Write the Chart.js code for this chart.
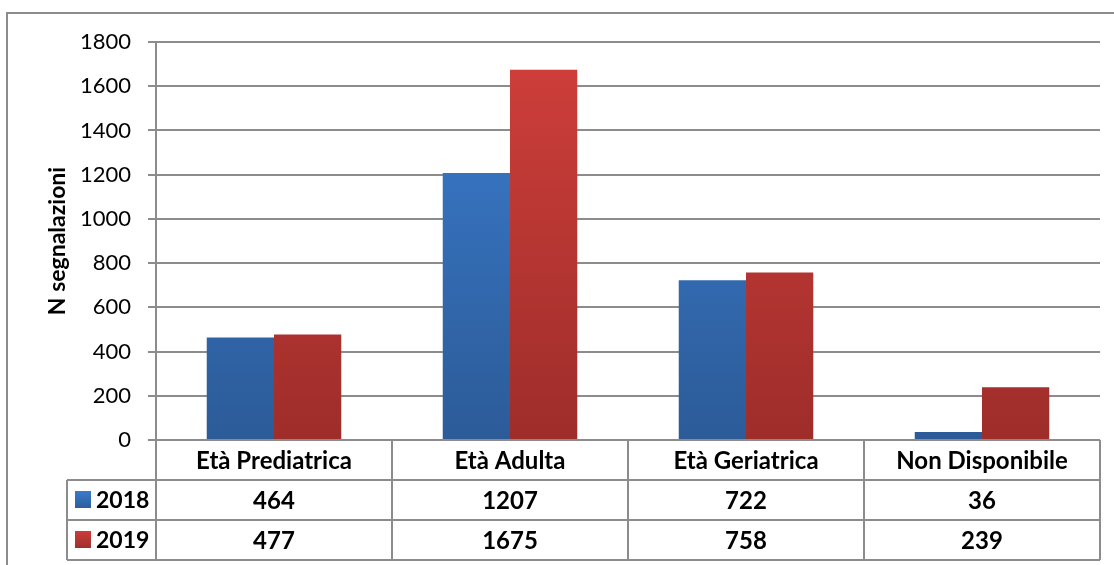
<!DOCTYPE html>
<html>
<head>
<meta charset="utf-8">
<script src="https://cdn.jsdelivr.net/npm/chart.js@4"></script>
<style>
  html, body { margin: 0; padding: 0; background: #fff; }
  #wrap { width: 1114px; height: 565px; position: relative; }
</style>
</head>
<body>
<div id="wrap"><canvas id="grafico"></canvas></div>
<script>
// Dati del grafico
const categorie = ['Età Prediatrica', 'Età Adulta', 'Età Geriatrica', 'Non Disponibile'];
const anni = ['2018', '2019'];
const valori2018 = [464, 1207, 722, 36];
const valori2019 = [477, 1675, 758, 239];
const ticksY = [0, 200, 400, 600, 800, 1000, 1200, 1400, 1600, 1800];

const FONT = 'Lato, "Open Sans", sans-serif';
const GRIGIO = '#8c8c8c';

// Gradiente verticale per le barre
function gradiente(ctx, alto, basso) {
    const chart = ctx.chart;
    const area = chart.chartArea;
    if (!area) return alto;
    const g = chart.ctx.createLinearGradient(0, area.top, 0, area.bottom);
    g.addColorStop(0, alto);
    g.addColorStop(1, basso);
    return g;
}

// Cornice esterna e tabella dati sotto l'asse
const pluginTabella = {
    id: 'tabella',
    beforeDraw(chart) {
        const c = chart.ctx;
        c.save();
        c.fillStyle = '#fff';
        c.fillRect(0, 0, chart.width, chart.height);
        c.strokeStyle = GRIGIO;
        c.lineWidth = 2;
        c.strokeRect(7, 13, 1200, 700);
        c.restore();
    },
    afterDraw(chart) {
        const c = chart.ctx;
        const area = chart.chartArea;
        const xs = chart.scales.x;
        const n = categorie.length;
        const larg = (area.right - area.left) / n;
        const y0 = area.bottom, y1 = y0 + 40, y2 = y1 + 40, y3 = y2 + 40;
        const legX = 67;

        c.save();
        c.strokeStyle = GRIGIO;
        c.lineWidth = 2;
        c.beginPath();
        // linee orizzontali
        c.moveTo(area.left, y0); c.lineTo(area.right, y0);
        c.moveTo(legX, y1); c.lineTo(area.right, y1);
        c.moveTo(legX, y2); c.lineTo(area.right, y2);
        c.moveTo(legX, y3); c.lineTo(area.right, y3);
        // linee verticali
        c.moveTo(legX, y1); c.lineTo(legX, y3);
        for (let i = 0; i <= n; i++) {
            const x = area.left + i * larg;
            c.moveTo(x, y0); c.lineTo(x, y3);
        }
        c.stroke();

        c.fillStyle = '#000';
        c.textAlign = 'center';
        c.textBaseline = 'middle';
        c.font = 'bold 24px ' + FONT;
        categorie.forEach((cat, i) => {
            const x = xs.getPixelForValue(i);
            c.fillText(cat, x, (y0 + y1) / 2 + 1);
            c.fillText(String(valori2018[i]), x, (y1 + y2) / 2 + 1);
            c.fillText(String(valori2019[i]), x, (y2 + y3) / 2 + 1);
        });

        // legenda nella tabella
        const righe = [[y1, '#3a7acb', '#2d5e9c'], [y2, '#cc3d3a', '#a02f2c']];
        righe.forEach(([y, a, b], k) => {
            const g = c.createLinearGradient(0, y + 11, 0, y + 28);
            g.addColorStop(0, a);
            g.addColorStop(1, b);
            c.fillStyle = g;
            c.fillRect(75, y + 11, 16, 17);
            c.fillStyle = '#000';
            c.textAlign = 'left';
            c.font = 'bold 23px ' + FONT;
            c.fillText(anni[k], 96, y + 21);
        });
        c.restore();
    }
};

const ctx = document.getElementById('grafico').getContext('2d');
new Chart(ctx, {
    type: 'bar',
    data: {
        labels: categorie,
        datasets: [{
            label: anni[0],
            data: valori2018,
            backgroundColor: (c) => gradiente(c, '#3b7dcf', '#2c5b98'),
            borderWidth: 0
        }, {
            label: anni[1],
            data: valori2019,
            backgroundColor: (c) => gradiente(c, '#d03f3b', '#9e2d2a'),
            borderWidth: 0
        }]
    },
    options: {
        responsive: true,
        maintainAspectRatio: false,
        animation: false,
        devicePixelRatio: 1,
        layout: { padding: { left: 44, top: 42, right: 14, bottom: 125 } },
        datasets: { bar: { categoryPercentage: 0.57, barPercentage: 1.0 } },
        plugins: {
            legend: { display: false },
            tooltip: { enabled: false }
        },
        scales: {
            x: {
                display: false,
                offset: true
            },
            y: {
                min: 0,
                max: 1800,
                afterBuildTicks: (scale) => { scale.ticks = ticksY.map(v => ({ value: v })); },
                afterFit: (scale) => { scale.width = 112; },
                ticks: {
                    padding: 17,
                    color: '#000',
                    font: { family: FONT, size: 22 },
                    callback: (v) => String(v)
                },
                grid: {
                    color: GRIGIO,
                    lineWidth: 2,
                    tickLength: 8
                },
                border: { color: GRIGIO, width: 2 },
                title: {
                    display: true,
                    text: 'N segnalazioni',
                    color: '#000',
                    font: { family: FONT, size: 23, weight: 'bold' },
                    padding: { top: 0, bottom: 0 }
                }
            }
        }
    },
    plugins: [pluginTabella]
});
</script>
</body>
</html>
